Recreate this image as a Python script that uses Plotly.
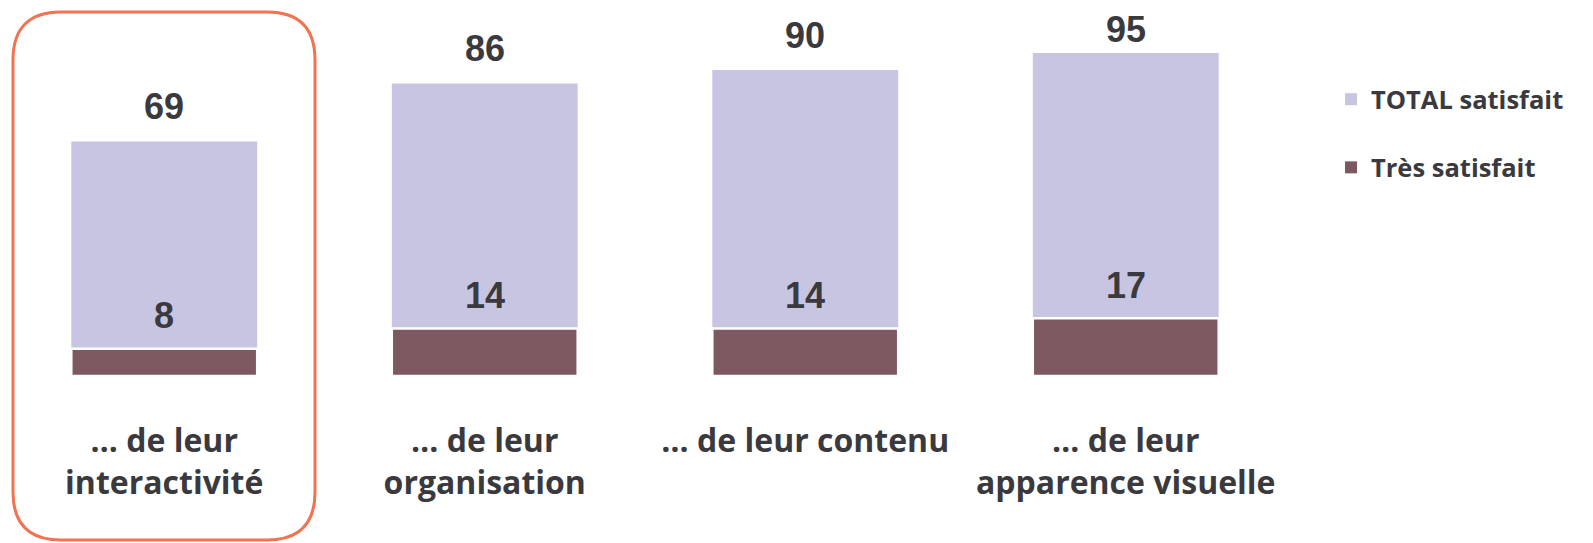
import plotly.graph_objects as go

categories = ["interactivite", "organisation", "contenu", "apparence"]
tick_labels = [
    "… de leur<br>interactivité",
    "… de leur<br>organisation",
    "… de leur contenu",
    "… de leur<br>apparence visuelle",
]
total_satisfait = [69, 86, 90, 95]
tres_satisfait = [8, 14, 14, 17]

LAVENDER = "#C8C5E2"
DARK = "#7E5860"
TEXT = "#3A3A3E"
ORANGE = "#F07352"

# the page body adds an 8px offset, so the figure is laid out 8px up/left
W, H = 1593, 543
L, R, T, B = 0, 311, 28, 175
pw, ph = W - L - R, H - T - B
Y_MAX = 100


def to_paper(px, py):
    return (px - L) / pw, (H - B - py) / ph


def rounded_box(x0, y0, x1, y1, r):
    pts = [
        ("M", x0 + r, y0), ("L", x1 - r, y0), ("Q", x1, y0, x1, y0 + r),
        ("L", x1, y1 - r), ("Q", x1, y1, x1 - r, y1), ("L", x0 + r, y1),
        ("Q", x0, y1, x0, y1 - r), ("L", x0, y0 + r), ("Q", x0, y0, x0 + r, y0),
    ]
    parts = []
    for p in pts:
        cmd, coords = p[0], p[1:]
        xy = []
        for i in range(0, len(coords), 2):
            a, b = to_paper(coords[i], coords[i + 1])
            xy.append(f"{a:.5f},{b:.5f}")
        parts.append(cmd + " ".join(xy))
    return " ".join(parts) + " Z"


fig = go.Figure()

fig.add_trace(
    go.Bar(
        x=categories, y=total_satisfait, name="TOTAL satisfait",
        marker=dict(color=LAVENDER, line=dict(width=0)),
        width=0.58, showlegend=False,
    )
)
fig.add_trace(
    go.Bar(
        x=categories, y=tres_satisfait, name="Très satisfait",
        marker=dict(color=DARK, line=dict(color="white", width=2.5)),
        width=0.58, showlegend=False,
    )
)

# legend entries with larger square swatches
for name, color, grp in (("TOTAL satisfait", LAVENDER, "a"), ("Très satisfait", DARK, "b")):
    fig.add_trace(
        go.Scatter(
            x=[None], y=[None], mode="markers", name=name, legendgroup=grp,
            marker=dict(symbol="square", size=15, color=color),
        )
    )

# value labels; keep the top one inside the svg
for series, shift in ((total_satisfait, 35), (tres_satisfait, 33)):
    for cat, val in zip(categories, series):
        center = (H - B) - val * ph / Y_MAX - shift
        ys = shift - max(0, 21 - center)
        fig.add_annotation(
            x=cat, y=val, text=f"<b>{val}</b>", showarrow=False,
            yanchor="middle", yshift=ys,
            font=dict(family="Liberation Sans, Arial", size=36, color=TEXT),
        )

fig.add_shape(
    type="path", xref="paper", yref="paper",
    path=rounded_box(5, 4, 307, 532, 48),
    line=dict(color=ORANGE, width=3), fillcolor="rgba(0,0,0,0)",
    layer="above",
)

fig.update_layout(
    width=W, height=H,
    barmode="overlay",
    margin=dict(l=L, r=R, t=T, b=B),
    paper_bgcolor="white", plot_bgcolor="white",
    showlegend=True,
    legend=dict(
        x=1.032, y=0.882, xanchor="left", yanchor="top",
        font=dict(family="Open Sans", size=25.5, color=TEXT, weight="bold"),
        tracegroupgap=32, itemsizing="constant",
        bgcolor="rgba(0,0,0,0)",
    ),
    xaxis=dict(
        tickmode="array", tickvals=categories, ticktext=tick_labels,
        tickfont=dict(family="Open Sans", size=32, color=TEXT, weight="bold"),
        showline=False, showgrid=False, zeroline=False, ticks="",
        ticklabelstandoff=43,
        range=[-0.4875, 3.5125],
    ),
    yaxis=dict(
        range=[0, Y_MAX], visible=False, showgrid=False, zeroline=False,
    ),
)

fig.write_html("out.html")
